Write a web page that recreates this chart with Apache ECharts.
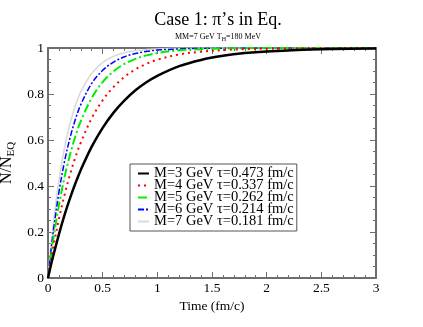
<!DOCTYPE html>
<html>
<head>
<meta charset="utf-8">
<script src="https://cdn.jsdelivr.net/npm/echarts@6/dist/echarts.min.js"></script>
<style>
  html, body { margin: 0; padding: 0; background: #ffffff; }
  #chart { width: 423px; height: 327px; }
</style>
</head>
<body>
<div id="chart"></div>
<script>
// time points (fm/c)
const time = [0, 0.025, 0.05, 0.1, 0.15, 0.2, 0.25, 0.3, 0.4, 0.5, 0.6, 0.7, 0.8, 0.9, 1.0, 1.2, 1.4, 1.6, 1.8, 2.0, 2.5, 3.0]

// N/N_EQ
const m3 = [0, 0.052, 0.100, 0.190, 0.272, 0.345, 0.411, 0.470, 0.571, 0.653, 0.719, 0.772, 0.816, 0.851, 0.879, 0.921, 0.948, 0.966, 0.978, 0.985, 0.995, 0.998]
const m4 = [0, 0.072, 0.138, 0.257, 0.359, 0.448, 0.524, 0.589, 0.695, 0.773, 0.831, 0.875, 0.907, 0.931, 0.949, 0.972, 0.984, 0.991, 0.995, 0.997, 0.999, 1.0]
const m5 = [0, 0.091, 0.174, 0.317, 0.436, 0.534, 0.615, 0.682, 0.783, 0.852, 0.899, 0.931, 0.953, 0.968, 0.978, 0.990, 0.995, 0.998, 0.999, 1.0, 1.0, 1.0]
const m6 = [0, 0.110, 0.208, 0.373, 0.504, 0.607, 0.689, 0.754, 0.846, 0.903, 0.939, 0.962, 0.976, 0.985, 0.991, 0.996, 0.999, 0.999, 1.0, 1.0, 1.0, 1.0]
const m7 = [0, 0.129, 0.241, 0.425, 0.563, 0.669, 0.749, 0.809, 0.890, 0.937, 0.964, 0.979, 0.988, 0.993, 0.996, 0.999, 1.0, 1.0, 1.0, 1.0, 1.0, 1.0]

const names = [
  'M=3 GeV \u03c4=0.473 fm/c',
  'M=4 GeV \u03c4=0.337 fm/c',
  'M=5 GeV \u03c4=0.262 fm/c',
  'M=6 GeV \u03c4=0.214 fm/c',
  'M=7 GeV \u03c4=0.181 fm/c'
]

const serif = '"Liberation Serif", "DejaVu Serif", serif'
const frame = '#6e6e6e'

function pairs(ys) {
  return time.map((t, i) => [t, ys[i]])
}

function makeSeries(name, ys, color, width, dash) {
  return {
    name: name,
    type: 'line',
    data: pairs(ys),
    smooth: 0.35,
    showSymbol: false,
    symbol: 'none',
    lineStyle: { color: color, width: width, type: dash },
    itemStyle: { color: color },
    z: 3
  }
}

let chart = echarts.init(document.getElementById('chart'))

let option = {
  backgroundColor: '#ffffff',
  animation: false,
  title: {
    text: 'Case 1: \u03c0\u2019s in Eq.',
    subtext: '{a|MM=7 GeV T}{s|H}{a|=180 MeV}',
    left: 213,
    textAlign: 'center',
    top: 6,
    itemGap: 3,
    textStyle: { fontFamily: serif, fontSize: 18, fontWeight: 'normal', color: '#000' },
    subtextStyle: {
      rich: {
        a: { fontFamily: serif, fontSize: 8, color: '#000' },
        s: { fontFamily: serif, fontSize: 6, color: '#000', verticalAlign: 'bottom', padding: [4, 0, 0, 0] }
      }
    }
  },
  legend: {
    orient: 'vertical',
    left: 130,
    top: 164,
    padding: [2, 3, 2, 7],
    itemGap: -3,
    itemWidth: 11,
    itemHeight: 10,
    borderColor: '#555',
    borderWidth: 1,
    backgroundColor: '#fff',
    itemStyle: { color: 'transparent', borderColor: 'transparent', borderWidth: 0 },
    textStyle: { fontFamily: serif, fontSize: 14.5, color: '#000', padding: [0, 0, 0, 0] },
    data: names
  },
  grid: { left: 48, right: 47, top: 48, bottom: 49, outerBoundsMode: 'none', containLabel: false },
  xAxis: [
    {
      type: 'value', min: 0, max: 3, interval: 0.5,
      name: 'Time (fm/c)', nameLocation: 'middle', nameGap: 17,
      nameTextStyle: { fontFamily: serif, fontSize: 13.5, color: '#000' },
      axisLine: { onZero: false, lineStyle: { color: frame, width: 2 } },
      axisTick: { inside: true, length: 6, lineStyle: { color: frame } },
      minorTick: { show: true, splitNumber: 5, length: 3, lineStyle: { color: frame } },
      axisLabel: { fontFamily: serif, fontSize: 13.5, color: '#000', margin: 3,
        formatter: v => String(v) },
      splitLine: { show: false }
    },
    {
      type: 'value', min: 0, max: 3, interval: 0.5, position: 'top',
      axisLine: { onZero: false, lineStyle: { color: frame, width: 2 } },
      axisTick: { inside: true, length: 6, lineStyle: { color: frame } },
      minorTick: { show: true, splitNumber: 5, length: 3, lineStyle: { color: frame } },
      axisLabel: { show: false },
      splitLine: { show: false }
    }
  ],
  yAxis: [
    {
      type: 'value', min: 0, max: 1, interval: 0.2,
      name: '{a|N/N}{s|EQ}', nameLocation: 'middle', nameGap: 28, nameRotate: 90,
      nameTextStyle: {
        rich: {
          a: { fontFamily: serif, fontSize: 16, color: '#000' },
          s: { fontFamily: serif, fontSize: 11, color: '#000', padding: [7, 0, 0, 0] }
        }
      },
      axisLine: { onZero: false, lineStyle: { color: frame, width: 2 } },
      axisTick: { inside: true, length: 6, lineStyle: { color: frame } },
      minorTick: { show: true, splitNumber: 4, length: 3, lineStyle: { color: frame } },
      axisLabel: { fontFamily: serif, fontSize: 13.5, color: '#000', margin: 4,
        formatter: v => String(v) },
      splitLine: { show: false }
    },
    {
      type: 'value', min: 0, max: 1, interval: 0.2, position: 'right',
      axisLine: { onZero: false, lineStyle: { color: frame, width: 2 } },
      axisTick: { inside: true, length: 6, lineStyle: { color: frame } },
      minorTick: { show: true, splitNumber: 4, length: 3, lineStyle: { color: frame } },
      axisLabel: { show: false },
      splitLine: { show: false }
    }
  ],
  series: [
    makeSeries(names[4], m7, '#d9d9d9', 1.5, 'solid'),
    makeSeries(names[3], m6, '#0000ff', 1.5, [6, 2, 2, 2]),
    makeSeries(names[2], m5, '#00ee00', 2, [9, 3, 2, 3]),
    makeSeries(names[1], m4, '#ff0000', 2, [2, 4]),
    makeSeries(names[0], m3, '#000000', 2.5, 'solid')
  ]
}

chart.setOption(option)
</script>
</body>
</html>
